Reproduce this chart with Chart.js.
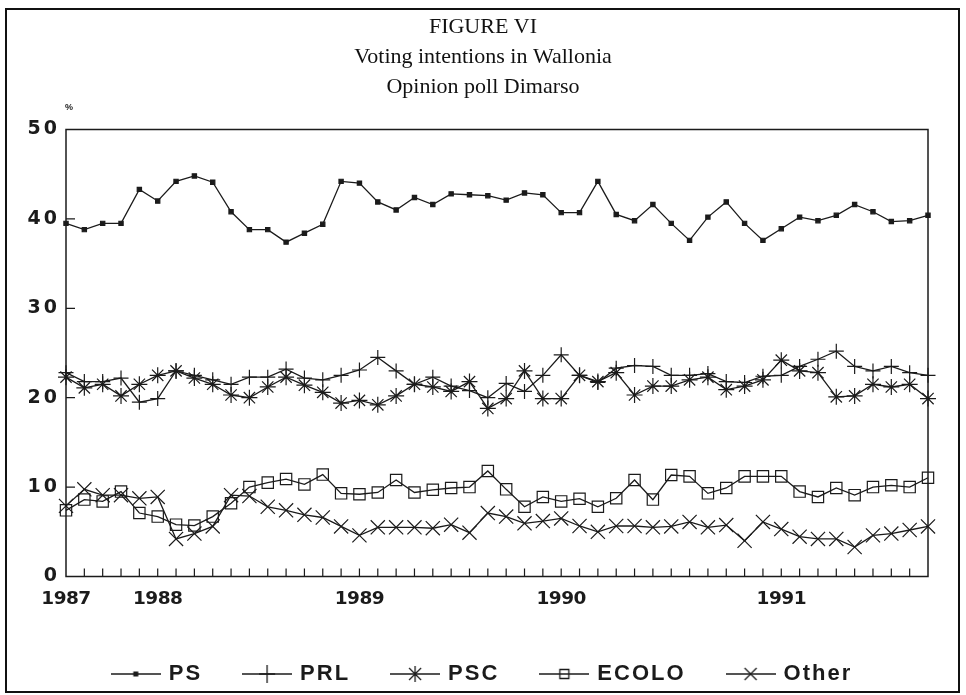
<!DOCTYPE html>
<html><head><meta charset="utf-8">
<script src="https://cdn.jsdelivr.net/npm/chart.js@4.4.0/dist/chart.umd.min.js"></script>
<style>
html,body{margin:0;padding:0;background:#fff;}
#wrap{position:relative;width:966px;height:695px;overflow:hidden;}
#frame{position:absolute;left:5px;top:8px;width:955px;height:685px;border:2px solid #111;box-sizing:border-box;pointer-events:none;}
</style></head><body>
<div id="wrap"><canvas id="c" width="966" height="695"></canvas><div id="frame"></div></div>
<script>
// x categories: one poll per month, year labels where the original axis prints them
const categories = [
 '1987','','','','','1988','','','','','','','','','','',
 '1989','','','','','','','','','','','1990','','','','',
 '','','','','','','','1991','','','','','','','',''
];
const yTicks = [0, 10, 20, 30, 40, 50];
const titleLines = ['FIGURE VI', 'Voting intentions in Wallonia', 'Opinion poll Dimarso'];
const seriesNames = ['PS', 'PRL', 'PSC', 'ECOLO', 'Other'];

const ps = [39.5,38.8,39.5,39.5,43.3,42.0,44.2,44.8,44.1,40.8,38.8,38.8,37.4,38.4,39.4,44.2,
            44.0,41.9,41.0,42.4,41.6,42.8,42.7,42.6,42.1,42.9,42.7,40.7,40.7,44.2,40.5,39.8,
            41.6,39.5,37.6,40.2,41.9,39.5,37.6,38.9,40.2,39.8,40.4,41.6,40.8,39.7,39.8,40.4];
const prl = [22.8,21.8,21.8,22.2,19.5,19.9,23.0,22.5,22.0,21.5,22.3,22.3,23.2,22.2,22.0,22.5,
             23.1,24.5,23.0,21.5,22.3,21.3,20.8,20.0,21.6,20.7,22.5,24.8,22.5,21.7,23.3,23.6,
             23.5,22.5,22.5,22.7,21.8,21.7,22.4,22.5,23.5,24.3,25.2,23.5,23.0,23.5,22.8,22.5];
const psc = [22.3,21.1,21.5,20.2,21.5,22.5,23.0,22.2,21.5,20.3,20.0,21.2,22.3,21.4,20.6,19.4,
             19.7,19.2,20.2,21.5,21.2,20.7,21.8,18.8,19.9,23.0,19.9,19.9,22.5,21.8,22.8,20.3,
             21.3,21.3,22.0,22.3,20.9,21.3,22.0,24.2,23.0,22.8,20.1,20.2,21.5,21.2,21.5,19.9];
const ecolo = [7.4,8.6,8.4,9.5,7.1,6.7,5.8,5.7,6.7,8.2,10.0,10.5,10.9,10.3,11.4,9.3,
               9.2,9.4,10.8,9.4,9.7,9.9,10.0,11.8,9.75,7.8,8.9,8.4,8.7,7.8,8.75,10.8,
               8.6,11.35,11.2,9.3,9.9,11.2,11.2,11.2,9.5,8.9,9.9,9.1,10.0,10.2,10.0,11.05];
const other = [7.9,9.75,9.1,9.1,8.75,8.9,4.2,4.8,5.6,9.1,9.0,7.8,7.4,6.9,6.6,5.6,
               4.6,5.5,5.5,5.5,5.4,5.8,4.9,7.1,6.7,5.95,6.2,6.5,5.65,5.0,5.65,5.65,
               5.5,5.6,6.1,5.5,5.75,4.0,6.1,5.3,4.45,4.2,4.2,3.3,4.6,4.8,5.2,5.6];

const INK = '#1b1b1b';
const markerDefs = [
  {style:'rect', radius:3, fill:INK},
  {style:'cross', radius:7.5, fill:'transparent'},
  {style:'star', radius:8, fill:'transparent'},
  {style:'rect', radius:8, fill:'rgba(0,0,0,0)'},
  {style:'crossRot', radius:10, fill:'transparent'}
];
const values = [ps, prl, psc, ecolo, other];

// scales whose tick labels use their own letter spacing
const labelSpacing = { spacedCategory: '-0.5px', spacedLinear: '3px' };
class SpacedCategory extends Chart.CategoryScale {
  static id = 'spacedCategory';
  drawLabels(area){ const c = this.ctx; c.save(); c.letterSpacing = labelSpacing.spacedCategory; super.drawLabels(area); c.restore(); }
}
class SpacedLinear extends Chart.LinearScale {
  static id = 'spacedLinear';
  drawLabels(area){ const c = this.ctx; c.save(); c.letterSpacing = labelSpacing.spacedLinear; super.drawLabels(area); c.restore(); }
}
Chart.register(SpacedCategory, SpacedLinear);

function legendIcon(k){
  const c = document.createElement('canvas');
  c.width = 50; c.height = 20;
  const g = c.getContext('2d');
  g.strokeStyle = INK; g.fillStyle = INK; g.lineWidth = 1.3;
  g.beginPath(); g.moveTo(0,10); g.lineTo(50,10); g.stroke();
  g.beginPath();
  if (k === 0) { g.fillRect(22.5,7.5,5,5); }
  else if (k === 1) { g.moveTo(25,1); g.lineTo(25,19); g.moveTo(17,10); g.lineTo(33,10); }
  else if (k === 2) { g.moveTo(25,2); g.lineTo(25,18); g.moveTo(19,4); g.lineTo(31,16); g.moveTo(31,4); g.lineTo(19,16); }
  else if (k === 3) { g.rect(20.5,5.5,9,9); }
  else { g.moveTo(19,4); g.lineTo(31,16); g.moveTo(31,4); g.lineTo(19,16); }
  g.stroke();
  return c;
}
const icons = seriesNames.map((n,k)=>legendIcon(k));

const datasets = seriesNames.map((name,k)=>({
  label: name,
  data: values[k],
  yAxisID: 'y',
  borderColor: INK,
  borderWidth: 1.3,
  tension: 0,
  pointStyle: markerDefs[k].style,
  pointRadius: markerDefs[k].radius,
  pointBorderColor: INK,
  pointBackgroundColor: markerDefs[k].fill,
  pointBorderWidth: 1.2,
  fill: false
}));

const LEGEND_SPACING = '2px';
const spacing = {
  id: 'spacing',
  afterInit(chart){ chart.ctx.letterSpacing = LEGEND_SPACING; },
  beforeUpdate(chart){ chart.ctx.letterSpacing = LEGEND_SPACING; },
  beforeDraw(chart){ chart.ctx.letterSpacing = LEGEND_SPACING; }
};

const decor = {
  id: 'decor',
  afterDraw(chart){
    const ctx = chart.ctx, a = chart.chartArea;
    const xs = chart.scales.x, ys = chart.scales.y;
    ctx.save();
    ctx.strokeStyle = INK; ctx.lineWidth = 1.5;
    ctx.strokeRect(a.left, a.top, a.right - a.left, a.bottom - a.top);
    ctx.lineWidth = 1.2;
    ctx.beginPath();
    for (let i = 1; i < categories.length - 1; i++) {
      const x = xs.getPixelForValue(i);
      ctx.moveTo(x, a.bottom); ctx.lineTo(x, a.bottom - 8);
    }
    yTicks.slice(1, -1).forEach(v => {
      const y = ys.getPixelForValue(v);
      ctx.moveTo(a.left, y); ctx.lineTo(a.left + 9, y);
    });
    ctx.stroke();
    // unit mark
    ctx.letterSpacing = '0px';
    ctx.fillStyle = INK;
    ctx.font = 'bold 9px "Liberation Sans"';
    ctx.textAlign = 'center'; ctx.textBaseline = 'middle';
    ctx.fillText('%', a.left + 3, a.top - 22);
    // title
    ctx.font = '22px "Liberation Serif"';
    ctx.fillStyle = '#111';
    titleLines.forEach((t, i) => ctx.fillText(t, 483, 27 + i * 30));
    ctx.restore();
  }
};

new Chart(document.getElementById('c'), {
  type: 'line',
  data: { labels: categories, datasets },
  plugins: [spacing, decor],
  options: {
    responsive: false,
    animation: false,
    devicePixelRatio: 1,
    layout: { padding: { top: 129.5, right: 0, bottom: 0, left: 0 } },
    plugins: {
      title: { display: false },
      tooltip: { enabled: false },
      legend: {
        position: 'bottom',
        labels: {
          usePointStyle: true,
          pointStyleWidth: 44,
          padding: 43,
          color: INK,
          font: { family: '"Liberation Sans"', size: 22, weight: 'bold' },
          generateLabels: (chart) => chart.data.datasets.map((d, i) => ({
            text: d.label, pointStyle: icons[i], fillStyle: INK, strokeStyle: INK,
            lineWidth: 0, hidden: false, datasetIndex: i, fontColor: INK
          }))
        }
      }
    },
    scales: {
      x: {
        type: 'spacedCategory',
        offset: false,
        grid: { display: false, drawTicks: false },
        border: { display: false },
        ticks: { autoSkip: false, maxRotation: 0, padding: 12, color: INK,
                 font: { family: '"DejaVu Sans"', size: 18.5, weight: 'bold' },
                 callback: (v, i) => categories[i] },
        afterFit: (s) => { s.height = 43.5; }
      },
      y: {
        type: 'spacedLinear',
        min: 0, max: 50,
        grid: { display: false, drawTicks: false },
        border: { display: false },
        ticks: { stepSize: 10, padding: 6, color: INK,
                 font: { family: '"DejaVu Sans"', size: 19, weight: 'bold' } },
        afterFit: (s) => { s.width = 66; }
      },
      yRight: {
        type: 'linear',
        position: 'right',
        min: 0, max: 50,
        grid: { display: false, drawTicks: false },
        border: { display: false },
        ticks: { display: false },
        afterFit: (s) => { s.width = 38; }
      }
    }
  }
});
</script>
</body></html>
